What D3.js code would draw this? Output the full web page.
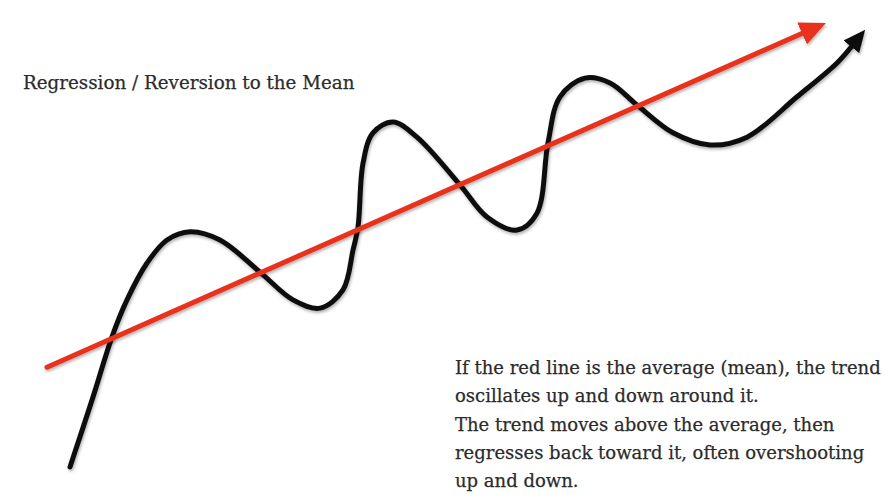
<!DOCTYPE html>
<html lang="en">
<head>
    <meta charset="UTF-8">
    <title>Regression / Reversion to the Mean</title>
    <script src="https://d3js.org/d3.v7.min.js"></script>
    <style>
        body { margin: 0; background: #fff; }
        svg { display: block; }
        .label { font-family: "DejaVu Serif", Georgia, serif; fill: #2b2b2b; stroke: #2b2b2b; stroke-width: 0.25px; }
    </style>
</head>
<body>
    <div id="chart"></div>

    <script>
        // Data (t = time, v = value, both on a 0-100 scale)
        const meanT = [0, 100];
        const meanV = [23, 100];

        const trendT = [3.04, 6.08, 8.60, 10.58, 13.23, 15.87, 18.92, 22.88, 28.17, 32.54, 36.11, 39.15, 40.48, 41.14,
            41.80, 43.12, 45.77, 48.94, 54.63, 58.20, 62.17, 64.81, 66.27, 67.86, 71.16, 74.47, 78.04, 82.80,
            87.70, 92.59, 99.21, 104.50, 106.48];
        const trendV = [0, 16.1, 30.0, 38.5, 47.0, 52.3, 54.2, 52.3, 44.9, 38.5, 36.6, 40.8, 50.0, 55.3,
            70.0, 77.0, 79.5, 76.0, 65.0, 57.6, 54.6, 58.5, 74.7, 85.3, 89.6, 88.5, 83.4, 77.0,
            74.2, 76.0, 85.3, 93.1, 97.0];

        const title = "Regression / Reversion to the Mean";
        const noteLines = [
            "If the red line is the average (mean), the trend",
            "oscillates up and down around it.",
            "The trend moves above the average, then",
            "regresses back toward it, often overshooting",
            "up and down."
        ];

        // Configuration
        const width = 885, height = 498;

        const x = d3.scaleLinear().domain([0, 100]).range([47, 803]);
        const y = d3.scaleLinear().domain([0, 100]).range([467, 33]);

        const svg = d3.select("#chart")
            .append("svg")
            .attr("width", width)
            .attr("height", height);

        const defs = svg.append("defs");

        defs.append("filter")
            .attr("id", "shadow")
            .attr("x", "-10%").attr("y", "-10%")
            .attr("width", "120%").attr("height", "120%")
            .append("feDropShadow")
            .attr("dx", 1).attr("dy", 2)
            .attr("stdDeviation", 1.5)
            .attr("flood-color", "#000")
            .attr("flood-opacity", 0.3);

        function arrowMarker(id, color, len, wid) {
            defs.append("marker")
                .attr("id", id)
                .attr("markerUnits", "userSpaceOnUse")
                .attr("viewBox", `0 ${-wid / 2} ${len} ${wid}`)
                .attr("refX", 1)
                .attr("refY", 0)
                .attr("markerWidth", len)
                .attr("markerHeight", wid)
                .attr("orient", "auto")
                .append("path")
                .attr("d", `M0,${-wid / 2}L${len},0L0,${wid / 2}Z`)
                .attr("fill", color);
        }
        arrowMarker("arrowRed", "#e8301c", 26, 24);
        arrowMarker("arrowBlack", "#111", 22, 20);

        const line = d3.line()
            .x(d => x(d[0]))
            .y(d => y(d[1]));

        // Trend (black)
        svg.append("path")
            .datum(d3.zip(trendT, trendV))
            .attr("d", line.curve(d3.curveCatmullRom.alpha(0.5)))
            .attr("fill", "none")
            .attr("stroke", "#111")
            .attr("stroke-width", 5)
            .attr("stroke-linecap", "round")
            .attr("marker-end", "url(#arrowBlack)")
            .attr("filter", "url(#shadow)");

        // Mean (red)
        svg.append("path")
            .datum(d3.zip(meanT, meanV))
            .attr("d", line.curve(d3.curveLinear))
            .attr("fill", "none")
            .attr("stroke", "#e8301c")
            .attr("stroke-width", 5)
            .attr("stroke-linecap", "round")
            .attr("marker-end", "url(#arrowRed)")
            .attr("filter", "url(#shadow)");

        // Texts
        svg.append("text")
            .attr("class", "label")
            .attr("x", 23)
            .attr("y", 89)
            .style("font-size", "18.3px")
            .text(title);

        svg.append("g")
            .selectAll("text")
            .data(noteLines)
            .enter().append("text")
            .attr("class", "label")
            .attr("x", 455)
            .attr("y", (d, i) => 374 + i * 28.3)
            .style("font-size", "18px")
            .text(d => d);
    </script>
</body>
</html>
